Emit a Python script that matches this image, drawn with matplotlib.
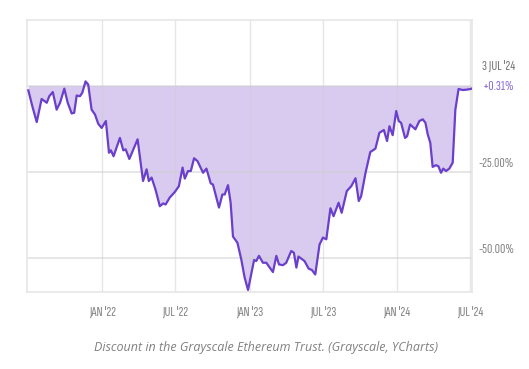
import matplotlib
matplotlib.use("Agg")
import matplotlib.pyplot as plt
import numpy as np

# Decimal-year dates and discount (%) of the Grayscale Ethereum Trust
dates = [2021.499, 2021.526, 2021.556, 2021.589, 2021.624, 2021.641, 2021.665, 2021.691,
         2021.714, 2021.743, 2021.766, 2021.793, 2021.810, 2021.827, 2021.849, 2021.865,
         2021.887, 2021.905, 2021.928, 2021.951, 2021.973, 2021.996, 2022.025, 2022.046,
         2022.059, 2022.077, 2022.120, 2022.143, 2022.159, 2022.184, 2022.240, 2022.277,
         2022.301, 2022.316, 2022.335, 2022.361, 2022.391, 2022.413, 2022.430, 2022.458,
         2022.492, 2022.520, 2022.545, 2022.560, 2022.582, 2022.601, 2022.623, 2022.646,
         2022.684, 2022.707, 2022.736, 2022.751, 2022.792, 2022.815, 2022.831, 2022.853,
         2022.871, 2022.887, 2022.917, 2022.943, 2022.966, 2022.989, 2023.030, 2023.045,
         2023.063, 2023.090, 2023.113, 2023.136, 2023.158, 2023.181, 2023.199, 2023.226,
         2023.248, 2023.282, 2023.300, 2023.317, 2023.331, 2023.372, 2023.400, 2023.422,
         2023.445, 2023.474, 2023.497, 2023.520, 2023.548, 2023.569, 2023.603, 2023.624,
         2023.659, 2023.689, 2023.718, 2023.740, 2023.756, 2023.786, 2023.818, 2023.853,
         2023.880, 2023.910, 2023.932, 2023.948, 2023.970, 2023.994, 2024.011, 2024.027,
         2024.054, 2024.068, 2024.088, 2024.124, 2024.151, 2024.174, 2024.192, 2024.208,
         2024.225, 2024.241, 2024.264, 2024.280, 2024.298, 2024.313, 2024.332, 2024.354,
         2024.377, 2024.395, 2024.417, 2024.444, 2024.471, 2024.500, 2024.510]
discount = [-1.4, -6.0, -10.6, -3.9, -5.0, -3.1, -1.9, -7.0,
            -5.0, -0.9, -5.0, -8.1, -7.9, -2.9, -3.1, -2.1,
            1.2, 0.3, -7.0, -8.4, -11.1, -12.3, -10.3, -19.5,
            -18.8, -20.5, -15.2, -18.8, -18.5, -21.3, -15.6, -27.7,
            -24.3, -27.7, -26.7, -30.1, -35.0, -34.2, -34.5, -32.5,
            -30.9, -29.2, -23.8, -27.0, -24.8, -24.8, -21.1, -21.9,
            -25.3, -24.1, -28.4, -28.7, -35.4, -31.6, -31.6, -28.9,
            -34.0, -43.8, -45.6, -50.4, -55.7, -59.3, -50.6, -50.9,
            -49.4, -51.4, -51.4, -52.8, -54.1, -49.4, -51.9, -52.1,
            -51.4, -48.0, -48.5, -52.8, -49.6, -50.9, -53.1, -53.5,
            -54.8, -46.1, -44.1, -44.6, -35.6, -37.9, -34.0, -36.9,
            -30.6, -29.2, -26.9, -33.5, -32.1, -25.3, -19.3, -18.3,
            -13.7, -12.9, -16.1, -11.8, -14.4, -7.4, -10.3, -10.8,
            -15.2, -14.7, -11.3, -12.7, -10.3, -9.8, -10.8, -14.2,
            -16.6, -23.6, -23.1, -23.4, -25.3, -24.1, -24.8, -24.1,
            -22.4, -7.0, -1.0, -1.3, -1.2, -1.0, -0.8]

xtick_pos = [2022.0, 2022.496, 2023.0, 2023.496, 2024.0, 2024.496]
xtick_labels = ["JAN '22", "JUL '22", "JAN '23", "JUL '23", "JAN '24", "JUL '24"]
ytick_pos = [-25, -50]
ytick_labels = ["-25.00%", "-50.00%"]
last_date_label = "3 JUL '24"
last_value_label = "+0.31%"
caption = "Discount in the Grayscale Ethereum Trust. (Grayscale, YCharts)"

LINE = "#6a3fcb"
FILL = "#d9caf0"
GRID = "#e6e6e6"
TXT = "#858585"
narrow = ["Sofia Sans Extra Condensed", "Roboto Condensed", "DejaVu Sans"]
NS = 10.5

L, R, T, B = 27.3, 472.3, 20.0, 292.3
fig = plt.figure(figsize=(5.29, 3.69), dpi=100)
ax = fig.add_axes([L/529, 1-B/369, (R-L)/529, (B-T)/369])

x = np.array(dates)
y = np.array(discount)
ax.fill_between(x, y, 0, color=FILL, linewidth=0, zorder=1)
ax.plot(x, y, color=LINE, linewidth=1.6, zorder=4, solid_joinstyle="round")

ax.set_xlim(2021.492, 2024.510)
ax.set_ylim(-59.97, 19.0)

for xv in xtick_pos:
    ax.axvline(xv, color="#cfcfcf", lw=1.0, alpha=0.5, zorder=2)
for yv in [0] + ytick_pos:
    ax.axhline(yv, color="#cfcfcf", lw=1.2, alpha=0.6, zorder=2)

for s in ax.spines.values():
    s.set_color(GRID)
    s.set_linewidth(1.2)
ax.set_xticks([])
ax.set_yticks([])

# x tick labels
for xv, lab in zip(xtick_pos, xtick_labels):
    ax.text(xv, -0.073, lab, transform=ax.get_xaxis_transform(), ha="center", va="center",
            fontsize=NS, color=TXT, family=narrow)
# y labels on right
for yv, lab in zip(ytick_pos, ytick_labels):
    ax.annotate(lab, xy=(1.0, yv), xycoords=ax.get_yaxis_transform(),
                xytext=(6.5, 8.5), textcoords="offset pixels", ha="left", va="center",
                fontsize=NS, color=TXT, family=narrow)
ax.annotate(last_date_label, xy=(1.0, 0), xycoords=ax.get_yaxis_transform(),
            xytext=(9.5, 19), textcoords="offset pixels", ha="left", va="center",
            fontsize=NS, color="#777777", family=narrow)
ax.annotate(last_value_label, xy=(1.0, 0), xycoords=ax.get_yaxis_transform(),
            xytext=(10.5, -1), textcoords="offset pixels", ha="left", va="center",
            fontsize=NS, color="#8a6ad6", family=narrow)

fig.text(266.5/529, 1-348/369, caption, ha="center", va="center", fontsize=9.0,
         style="italic", color="#808080", family=["Open Sans", "DejaVu Sans"])

fig.savefig("out.png", dpi=100, facecolor="white")
